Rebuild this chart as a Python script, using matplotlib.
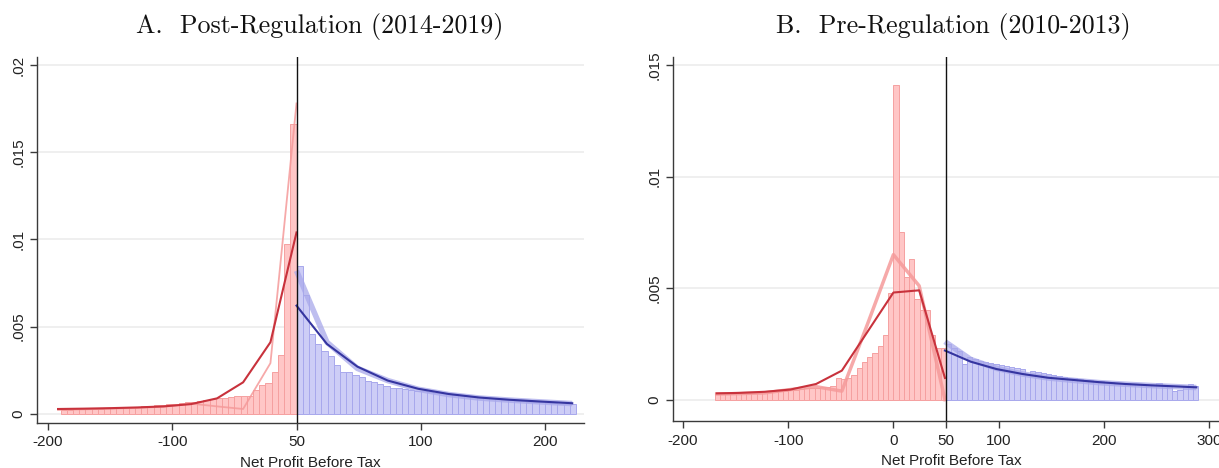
import matplotlib
matplotlib.use("Agg")
import matplotlib.pyplot as plt
import numpy as np

# ---------------- Panel A: Post-Regulation (2014-2019) ----------------
a_title = "A.  Post-Regulation (2014-2019)"
a_bin_width = 5
a_red_start = -190
a_red_vals = [
    0.00023, 0.00024, 0.00025, 0.00026, 0.00027, 0.00028, 0.00029,
    0.00030, 0.00032, 0.00034, 0.00036, 0.00038, 0.00040, 0.00042, 0.00045,
    0.00048, 0.00052, 0.00055, 0.00058, 0.00062, 0.00066, 0.00070, 0.00075,
    0.00080, 0.00085, 0.00088, 0.00092, 0.00095, 0.00100, 0.00100, 0.00102,
    0.00136, 0.00165, 0.00174, 0.00237, 0.00337, 0.00975, 0.01660,
]
a_blue_start = 0
a_blue_vals = [
    0.0085, 0.0068, 0.0046, 0.0040, 0.0036, 0.0033, 0.0028, 0.0024, 0.0024,
    0.0022, 0.0021, 0.0019, 0.0018, 0.0017, 0.0016, 0.0015, 0.00145, 0.0014,
    0.00135, 0.0013, 0.00128, 0.00125, 0.0012, 0.00118, 0.00112, 0.0011,
    0.00105, 0.0010, 0.00098, 0.00095, 0.0009, 0.00088, 0.00085, 0.0008,
    0.00078, 0.00075, 0.00072, 0.0007, 0.00068, 0.00065, 0.00062, 0.0006,
    0.00058, 0.00056, 0.00055,
]
a_red_line_x = [-192, -171, -149, -128, -107, -85, -64, -43, -21, 0]
a_red_dark_y = [0.00027, 0.00029, 0.00032, 0.00036, 0.00042, 0.00055, 0.00088, 0.0018, 0.0041, 0.0104]
a_red_light_y = [0.00022, 0.00025, 0.00029, 0.00033, 0.00040, 0.00058, 0.00042, 0.00027, 0.0029, 0.0178]
a_blue_line_x = [0, 24.5, 49, 73.5, 98, 122.5, 147, 171.5, 196, 222]
a_blue_dark_y = [0.0062, 0.0040, 0.0027, 0.0019, 0.00143, 0.00113, 0.00093, 0.0008, 0.0007, 0.0006]
a_blue_light_y = [0.0082, 0.0041, 0.0026, 0.0019, 0.0014, 0.0011, 0.0009, 0.00078, 0.00068, 0.00058]
a_xticks = [-200, -100, 0, 100, 200]
a_xticklabels = ["-200", "-100", "50", "100", "200"]
a_yticks = [0, 0.005, 0.01, 0.015, 0.02]
a_yticklabels = ["0", ".005", ".01", ".015", ".02"]
a_cutoff = 0

# ---------------- Panel B: Pre-Regulation (2010-2013) ----------------
b_title = "B.  Pre-Regulation (2010-2013)"
b_bin_width = 5
b_red_start = -170
b_red_vals = [
    0.00025, 0.00025, 0.00026, 0.00027, 0.00028, 0.00028, 0.00030, 0.00030,
    0.00031, 0.00032, 0.00034, 0.00036, 0.00038, 0.00040, 0.00042, 0.00045,
    0.00048, 0.00050, 0.00050, 0.00052, 0.00055, 0.00058, 0.00060, 0.00095,
    0.00092, 0.00095, 0.0011, 0.0014, 0.0017, 0.0019, 0.0021, 0.0024,
    0.0029, 0.0048, 0.0141, 0.0075, 0.0055, 0.0063, 0.0045, 0.0040,
    0.0040, 0.0029, 0.0023, 0.0023,
]
b_blue_start = 50
b_blue_vals = [
    0.0025, 0.0023, 0.0022, 0.0016, 0.0019, 0.0018, 0.00175, 0.0017,
    0.00165, 0.0016, 0.00155, 0.0015, 0.00145, 0.0014, 0.00135, 0.0011,
    0.0013, 0.00125, 0.0012, 0.00115, 0.0011, 0.00105, 0.0010, 0.00098,
    0.00095, 0.00092, 0.0009, 0.00088, 0.00085, 0.00082, 0.0008, 0.00078,
    0.00072, 0.00075, 0.00073, 0.00072, 0.0007, 0.00068, 0.00066, 0.00064,
    0.00075, 0.00062, 0.0006, 0.00038, 0.00045, 0.0006, 0.00068, 0.0006,
]
b_red_line_x = [-168, -147, -122.5, -98, -73.5, -49, -24.5, 0, 24.5, 49]
b_red_dark_y = [0.00028, 0.00030, 0.00035, 0.00045, 0.0007, 0.0013, 0.00305, 0.0048, 0.0049, 0.00097]
b_red_light_y = [0.00025, 0.00027, 0.00030, 0.00045, 0.00058, 0.00038, 0.0034, 0.0065, 0.0051, 0.0]
b_blue_line_x = [49, 73.5, 98, 122.5, 147, 171.5, 196, 220.5, 245, 269.5, 288]
b_blue_dark_y = [0.0022, 0.0017, 0.00137, 0.00115, 0.00098, 0.00088, 0.00078, 0.0007, 0.00064, 0.00059, 0.00055]
b_blue_light_y = [0.0026, 0.0018, 0.0014, 0.00115, 0.00097, 0.00086, 0.00076, 0.00069, 0.00063, 0.00058, 0.00054]
b_xticks = [-200, -100, 0, 50, 100, 200, 300]
b_xticklabels = ["-200", "-100", "0", "50", "100", "200", "300"]
b_yticks = [0, 0.005, 0.01, 0.015]
b_yticklabels = ["0", ".005", ".01", ".015"]
b_cutoff = 50

xlabel = "Net Profit Before Tax"

RED_FILL = "#ffc6c6"
RED_EDGE = "#f5a0a0"
BLUE_FILL = "#cdcdf6"
BLUE_EDGE = "#a8a8ec"
RED_DARK = "#c8323c"
RED_LIGHT = "#f59a9a"
BLUE_DARK = "#3535a0"
BLUE_LIGHT = "#a8a8ea"
AX_COL = "#3a3a3a"
GRID_COL = "#ececec"
SANS = "Liberation Sans"

fig = plt.figure(figsize=(12.19, 4.68), dpi=100)


def draw_panel(ax, red_start, red_vals, blue_start, blue_vals, width,
               rlx, rdy, rly, blx, bdy, bly, cutoff, xticks, xtl, yticks, ytl,
               xlim, ylim, light_red_lw):
    ax.set_xlim(*xlim)
    ax.set_ylim(*ylim)
    for yt in yticks:
        ax.axhline(yt, color=GRID_COL, lw=1.2, zorder=0)
    rx = red_start + width * np.arange(len(red_vals))
    bx = blue_start + width * np.arange(len(blue_vals))
    ax.bar(rx, red_vals, width=width, align="edge", color=RED_FILL,
           edgecolor=RED_EDGE, linewidth=0.7, zorder=1)
    ax.bar(bx, blue_vals, width=width, align="edge", color=BLUE_FILL,
           edgecolor=BLUE_EDGE, linewidth=0.7, zorder=1)
    ax.plot(rlx, rly, color=RED_LIGHT, lw=light_red_lw, alpha=0.85, zorder=2)
    ax.plot(blx, bly, color=BLUE_LIGHT, lw=4.0, alpha=0.75, zorder=2,
            solid_capstyle="butt")
    ax.plot(rlx, rdy, color=RED_DARK, lw=1.5, zorder=3)
    ax.plot(blx, bdy, color=BLUE_DARK, lw=1.5, zorder=3)
    ax.axvline(cutoff, color="#111111", lw=1.0, zorder=4)
    for s in ("top", "right"):
        ax.spines[s].set_visible(False)
    for s in ("left", "bottom"):
        ax.spines[s].set_color(AX_COL)
        ax.spines[s].set_linewidth(1.0)
    ax.set_xticks(xticks)
    ax.set_xticklabels(xtl, fontsize=11, family=SANS, color="#222222")
    ax.set_yticks(yticks)
    ax.set_yticklabels(ytl, fontsize=11, family=SANS, color="#222222",
                       rotation=90, va="center")
    ax.tick_params(axis="both", length=5, width=1.0, color=AX_COL)
    ax.tick_params(axis="x", pad=4)
    ax.tick_params(axis="y", pad=3)
    ax.set_xlabel(xlabel, fontsize=11, family=SANS, color="#222222", labelpad=5)
    ax.patch.set_alpha(0)


axA = fig.add_axes([0.0301, 0.0968, 0.449, 0.782])
draw_panel(axA, a_red_start, a_red_vals, a_blue_start, a_blue_vals, a_bin_width,
           a_red_line_x, a_red_dark_y, a_red_light_y,
           a_blue_line_x, a_blue_dark_y, a_blue_light_y, a_cutoff,
           a_xticks, a_xticklabels, a_yticks, a_yticklabels,
           (-209.2, 231.5), (-0.000516, 0.02048), 1.3)

axB = fig.add_axes([0.5517, 0.1004, 0.4573, 0.7778])
draw_panel(axB, b_red_start, b_red_vals, b_blue_start, b_blue_vals, b_bin_width,
           b_red_line_x, b_red_dark_y, b_red_light_y,
           b_blue_line_x, b_blue_dark_y, b_blue_light_y, b_cutoff,
           b_xticks, b_xticklabels, b_yticks, b_yticklabels,
           (-210.0, 320.0), (-0.00096, 0.01536), 2.5)

fig.text(320 / 1219, 1 - 26 / 468, a_title, family="cmr10", fontsize=18.7,
         ha="center", va="center", color="#111111")
fig.text(953 / 1219, 1 - 26 / 468, b_title, family="cmr10", fontsize=18.7,
         ha="center", va="center", color="#111111")

fig.savefig("out.png", dpi=100)
